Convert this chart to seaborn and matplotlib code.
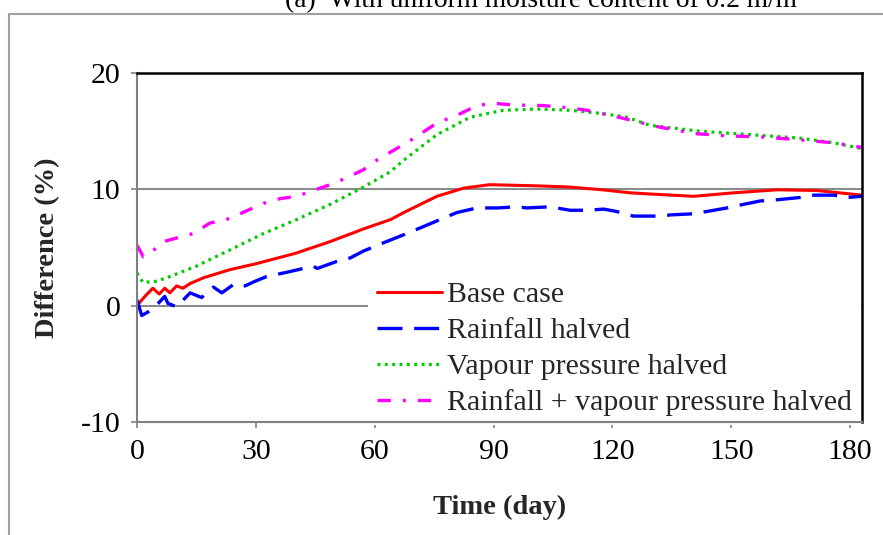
import matplotlib
matplotlib.use("Agg")
import matplotlib.pyplot as plt
from matplotlib.lines import Line2D
import seaborn as sns
import pandas as pd

# ---- data ----
days_base = [0, 2, 4, 5.6, 7, 8.3, 10, 11.6, 13.4, 16.8, 23.5, 30, 40, 48.7, 57.2, 64, 67.3,
             75.7, 82.4, 89, 101, 109, 117.8, 124.5, 129.5, 140.5, 150.6, 161.5, 171.6, 183]
base = [0, 0.8, 1.5, 1.0, 1.5, 1.1, 1.7, 1.5, 1.9, 2.4, 3.1, 3.6, 4.5, 5.5, 6.6, 7.4, 8.0,
        9.4, 10.1, 10.4, 10.3, 10.2, 9.95, 9.7, 9.6, 9.4, 9.7, 9.96, 9.9, 9.5]

days_rain = [0, 1.2, 4, 7, 7.8, 10, 13.4, 16.3, 19.3, 21.4, 24.7, 27.3, 29.8, 32.7, 38.2, 44.5,
             45.5, 50.4, 53.8, 57.2, 62.2, 68.1, 72.3, 76.5, 80.7, 85.8, 91, 95.9, 98.4, 104.3,
             109.3, 113.5, 117.8, 121, 125.3, 132, 134.6, 140.5, 143.9, 148.9, 153, 157.3,
             161.5, 167.4, 170.8, 175.9, 179.3, 183]
rain = [0.5, -0.85, -0.3, 0.8, 0.2, -0.1, 1.1, 0.7, 1.6, 1.1, 1.9, 1.7, 2.1, 2.5, 2.9, 3.4,
        3.2, 3.8, 4.1, 4.7, 5.4, 6.2, 6.8, 7.4, 8.0, 8.4, 8.4, 8.5, 8.4, 8.5,
        8.2, 8.2, 8.3, 8.1, 7.7, 7.7, 7.8, 7.9, 8.1, 8.4, 8.7, 9.0,
        9.1, 9.3, 9.5, 9.5, 9.3, 9.4]

days_vp = [0, 1.5, 5, 8.3, 15, 23.5, 31.9, 40.3, 48.7, 57.2, 63.9, 67.3, 75.7, 84.1, 92.5, 101,
           109.3, 117.8, 123.6, 129.5, 142, 154.8, 167.4, 175.8, 183]
vp = [2.8, 2.0, 2.1, 2.5, 3.4, 4.8, 6.2, 7.4, 8.7, 10.2, 11.5, 12.5, 14.7, 16.2, 16.8, 16.9,
      16.8, 16.5, 16.2, 15.5, 15.0, 14.7, 14.4, 14.0, 13.5]

days_both = [0, 1.6, 3.3, 6.6, 14.2, 18.4, 23.5, 27.3, 32, 36.1, 40.3, 43.7, 48.7, 53, 57.2,
             60.5, 69, 75.7, 81.6, 85.8, 90, 95, 102.6, 109.3, 113.5, 122.8, 131.2, 140.5,
             148.9, 158, 167.4, 175.8, 183]
both = [5.2, 4.2, 4.5, 5.5, 6.2, 7.1, 7.5, 8.1, 8.8, 9.2, 9.4, 9.8, 10.4, 11.0, 11.7,
        12.5, 14.2, 15.7, 16.5, 17.2, 17.4, 17.25, 17.2, 17.0, 16.8, 16.1, 15.4, 14.8,
        14.6, 14.5, 14.25, 14.0, 13.6]

labels = ["Base case", "Rainfall halved", "Vapour pressure halved",
          "Rainfall + vapour pressure halved"]
x_ticks = [0, 30, 60, 90, 120, 150, 180]
y_ticks = [-10, 0, 10, 20]

# ---- style ----
sns.set_theme(style="white")
plt.rcParams["font.family"] = ["Liberation Serif", "DejaVu Serif"]
FS = 21.5
FSB = 20.5

W, H = 883, 535
fig = plt.figure(figsize=(W / 100, H / 100), dpi=100)
ax = fig.add_axes([137 / W, 1 - 422 / H, 725 / W, 349 / H])

series = [
    (days_base, base, "#FF0000", None, 2.2),
    (days_rain, rain, "#0000FF", (7.5, 3.5), 2.4),
    (days_vp, vp, "#00CC00", (0.9, 1.4), 2.3),
    (days_both, both, "#FF00FF", (4.0, 3.6, 0.9, 3.6), 2.4),
]
handles = []
for (d, v, c, dash, lw), lab in zip(series, labels):
    df = pd.DataFrame({"day": d, "val": v})
    sns.lineplot(data=df, x="day", y="val", ax=ax, color=c, linewidth=lw,
                 estimator=None, sort=False, legend=False)
    ln = ax.lines[-1]
    if dash is not None:
        ln.set_dashes(dash)
    ln.set_solid_capstyle("butt")
    ln.set_zorder(3)
    h = Line2D([], [], color=c, linewidth=lw)
    if dash is not None:
        h.set_dashes(dash)
    handles.append(h)

# horizontal reference lines
for yv in [0, 10]:
    ax.axhline(yv, color="#8C8C8C", linewidth=1.5, zorder=1)

ax.set_xlim(0, 183)
ax.set_ylim(-10, 20)
ax.set_xticks(x_ticks)
ax.set_yticks(y_ticks)
ax.set_xticklabels([str(t) for t in x_ticks], fontsize=FS)
ax.set_yticklabels([str(t) for t in y_ticks], fontsize=FS)
ax.tick_params(axis="both", direction="out", length=4, width=1.2, color="#808080",
               pad=8, labelcolor="black")
ax.tick_params(axis="x", bottom=True)
ax.tick_params(axis="y", left=True)

ax.set_xlabel("Time (day)", fontsize=FSB, fontweight="bold", labelpad=22)
ax.set_ylabel("Difference (%)", fontsize=FSB, fontweight="bold", labelpad=15)

for side in ["left", "bottom"]:
    ax.spines[side].set_color("#808080")
    ax.spines[side].set_linewidth(1.5)
for side in ["top", "right"]:
    ax.spines[side].set_color("black")
    ax.spines[side].set_linewidth(1.8)
for s in ax.spines.values():
    s.set_visible(True)
    s.set_zorder(6)

leg = ax.legend(handles, labels, loc="upper left", bbox_to_anchor=(0.318, 0.428),
                fontsize=FS, frameon=True, facecolor="white", edgecolor="none",
                framealpha=1, fancybox=False, handlelength=2.2, handletextpad=0.17,
                labelspacing=0.3, borderpad=0.3, borderaxespad=0)
leg.set_zorder(5)

# outer frame lines of the original figure
fx = 9 / W
fy = 1 - 14 / H
fig.add_artist(Line2D([fx, fx], [0, fy], color="#A0A0A0", linewidth=1.5,
                      transform=fig.transFigure))
fig.add_artist(Line2D([fx, 1], [fy, fy], color="#A0A0A0", linewidth=1.5,
                      transform=fig.transFigure))

# title, partly cut off at the very top as in the original
fig.text(541 / W, 1 - 7 / H, "(a)  With uniform moisture content of 0.2 m/m",
         fontsize=19.8, ha="center", va="baseline", color="black")

fig.savefig("out.png", dpi=100)
